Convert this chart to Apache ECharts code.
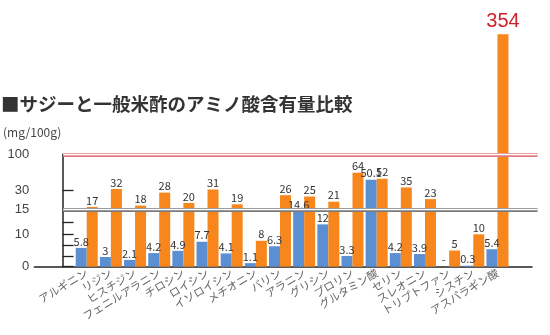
<!DOCTYPE html>
<html>
<head>
<meta charset="utf-8">
<script src="https://cdn.jsdelivr.net/npm/echarts@6/dist/echarts.min.js"></script>
<style>
  html, body { margin: 0; padding: 0; background: #fff; }
  #chart { width: 550px; height: 335px; }
</style>
</head>
<body>
<div id="chart"></div>
<script>
// アミノ酸の種類
const categories = ['アルギニン', 'リジン', 'ヒスチジン', 'フェニルアラニン', 'チロシン', 'ロイシン',
  'イソロイシン', 'メチオニン', 'バリン', 'アラニン', 'グリシン', 'プロリン', 'グルタミン酸',
  'セリン', 'スレオニン', 'トリプトファン', 'シスチン', 'アスパラギン酸'];

// 一般米酢 (mg/100g) — null は不検出「-」
const riceVinegar = [5.8, 3, 2.1, 4.2, 4.9, 7.7, 4.1, 1.1, 6.3, 14.6, 12, 3.3, 50.1, 4.2, 3.9, null, 0.3, 5.4];

// サジー (mg/100g)
const sajiVinegar = [17, 32, 18, 28, 20, 31, 19, 8, 26, 25, 21, 64, 52, 35, 23, 5, 10, 354];

// 縦軸の目盛
const yTickValues = [0, 3.3, 6.7, 10, 12.5, 15, 30, 100];
const yLabelValues = [0, 10, 15, 30, 100];
const yAxisTop = 100;
// 目盛を省略した区間を示す二重線
const breakLines = [100, 15];

// 区間ごとに縮尺の異なる縦軸: [実際の値, 軸上の位置]
const scaleKnots = [[0, 0], [10, 32.4], [15, 57.2], [30, 76.7], [100, 112.4], [354, 232.4]];

function toAxis(v) {
  for (let i = 1; i < scaleKnots.length; i++) {
    const [v0, d0] = scaleKnots[i - 1], [v1, d1] = scaleKnots[i];
    if (v <= v1 || i === scaleKnots.length - 1) return d0 + (v - v0) * (d1 - d0) / (v1 - v0);
  }
}
function fromAxis(d) {
  for (let i = 1; i < scaleKnots.length; i++) {
    const [v0, d0] = scaleKnots[i - 1], [v1, d1] = scaleKnots[i];
    if (d <= d1 + 1e-6 || i === scaleKnots.length - 1) return v0 + (d - d0) * (v1 - v0) / (d1 - d0);
  }
}

const JP = '"Noto Sans CJK JP", "Noto Sans", sans-serif';
const xMin = -1.17, xMax = 19.43;

function barData(values) {
  return values.map((v, i) => {
    const item = { value: [i + 1, toAxis(v == null ? 0 : v)], raw: v };
    if (v != null && v > yAxisTop) {
      item.label = { fontSize: 20, color: '#cc2229', fontFamily: 'Liberation Sans, Arial, sans-serif', distance: 3 };
    }
    return item;
  });
}

const valueLabel = {
  show: true,
  position: 'top',
  distance: 1,
  fontSize: 11,
  color: '#333',
  fontFamily: JP,
  formatter: p => (p.data.raw == null ? '-' : String(p.data.raw))
};

const lineData = [];
const lineColors = ['#e27a83', '#7a7a7a'];
breakLines.forEach((v, k) => {
  const y = toAxis(v);
  lineData.push([
    { coord: [-0.2, y], lineStyle: { color: lineColors[k], width: 4, type: 'solid' } },
    { coord: [xMax, y] }
  ]);
  lineData.push([
    { coord: [-0.2, y], lineStyle: { color: '#ffffff', width: 1.3, type: 'solid' } },
    { coord: [xMax, y] }
  ]);
});

const chart = echarts.init(document.getElementById('chart'), null, { renderer: 'canvas' });
chart.setOption({
  animation: false,
  backgroundColor: '#ffffff',
  title: [
    {
      text: '■サジーと一般米酢のアミノ酸含有量比較',
      left: 1,
      top: 95,
      padding: 0,
      textStyle: { fontSize: 18.5, fontWeight: 'bold', color: '#333', fontFamily: JP }
    },
    {
      text: '(mg/100g)',
      left: 3,
      top: 126,
      padding: 0,
      textStyle: { fontSize: 12, fontWeight: 'normal', color: '#444', fontFamily: JP }
    }
  ],
  grid: { left: 34.3, right: 18, top: 154.3, bottom: 68.3, containLabel: false, outerBoundsMode: 'none' },
  xAxis: {
    type: 'value',
    min: xMin,
    max: xMax,
    splitLine: { show: false },
    axisLine: { show: true, lineStyle: { color: '#222', width: 1.5 } },
    axisTick: { show: false },
    axisLabel: {
      customValues: categories.map((c, i) => i + 1),
      formatter: v => categories[Math.round(v) - 1] || '',
      rotate: 31,
      margin: 5,
      fontSize: 11,
      color: '#666',
      fontFamily: JP
    }
  },
  yAxis: {
    type: 'value',
    min: 0,
    max: toAxis(yAxisTop),
    splitLine: { show: false },
    axisLine: { show: true, lineStyle: { color: '#222', width: 1.5 } },
    axisTick: {
      show: true,
      inside: true,
      length: 11,
      customValues: yTickValues.map(toAxis),
      lineStyle: { color: '#222', width: 1.3 }
    },
    axisLabel: {
      customValues: yLabelValues.map(toAxis),
      formatter: d => String(Math.round(fromAxis(d))),
      margin: 5,
      fontSize: 13,
      color: '#444',
      fontFamily: 'Liberation Sans, Arial, sans-serif'
    }
  },
  series: [
    {
      name: '一般米酢',
      type: 'bar',
      barWidth: 11,
      barGap: '0%',
      itemStyle: { color: '#5b8fd2' },
      label: valueLabel,
      data: barData(riceVinegar)
    },
    {
      name: 'サジー',
      type: 'bar',
      barWidth: 11,
      barGap: '0%',
      clip: false,
      itemStyle: { color: '#f7861c' },
      label: valueLabel,
      data: barData(sajiVinegar),
      markLine: {
        silent: true,
        symbol: 'none',
        label: { show: false },
        data: lineData
      }
    }
  ]
});
</script>
</body>
</html>
